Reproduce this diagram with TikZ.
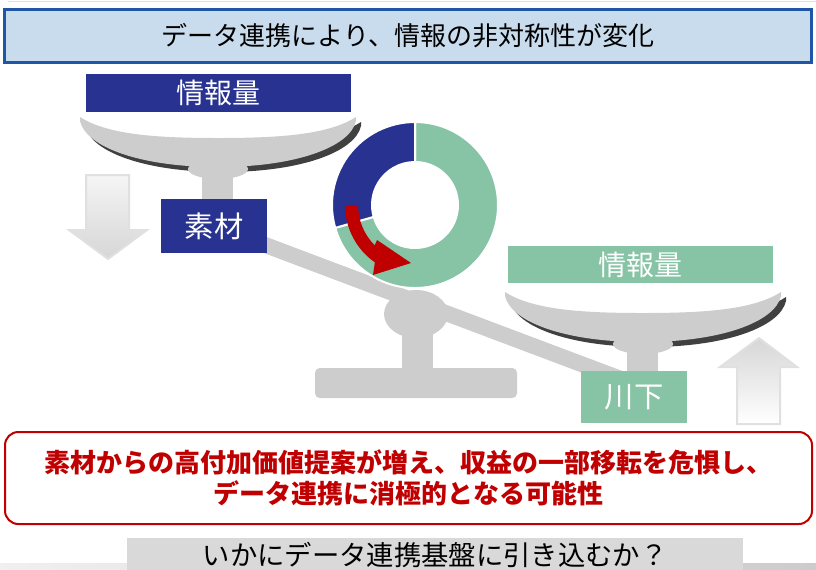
\documentclass[tikz,border=0pt]{standalone}
\usepackage{fontspec}
\newfontfamily\jp{Noto Sans CJK JP}
\usetikzlibrary{calc}

\definecolor{navy}{RGB}{40,50,145}
\definecolor{infogreen}{RGB}{135,195,165}
\definecolor{arrowred}{RGB}{192,0,0}
\definecolor{titlefill}{RGB}{201,220,238}
\definecolor{titleline}{RGB}{31,86,165}
\definecolor{pangray}{RGB}{205,205,205}
\definecolor{panshadow}{RGB}{64,64,64}
\definecolor{barfill}{RGB}{217,217,217}

\tikzset{
  labelbox/.style={inner sep=0pt, text=white,
    font=\jp\fontsize{21pt}{24pt}\selectfont},
  massbox/.style={inner sep=0pt, text=white,
    font=\jp\fontsize{22pt}{25pt}\selectfont},
  bigarrow/.style={draw=black!12, line width=1.5pt},
  pan/.pic={
    % dark rim shadow under the bowl
    \fill[panshadow, shift={(5,5)}]
      (-138,0) .. controls (-110,18) and (-60,21) .. (0,21)
      .. controls (60,21) and (110,18) .. (138,0) -- (138,4)
      .. controls (132,30) and (78,50) .. (0,50)
      .. controls (-78,50) and (-132,30) .. (-138,4) -- cycle;
    % bowl
    \fill[pangray]
      (-138,0) .. controls (-110,18) and (-60,21) .. (0,21)
      .. controls (60,21) and (110,18) .. (138,0) -- (138,4)
      .. controls (132,30) and (78,50) .. (0,50)
      .. controls (-78,50) and (-132,30) .. (-138,4) -- cycle;
    % hub and stem
    \fill[pangray] (0,52) ellipse[x radius=30, y radius=10];
    \fill[pangray] (-16,55) rectangle (15,92);
  }
}

\begin{document}
\begin{tikzpicture}[x=0.75pt, y=-0.75pt]
\useasboundingbox (0,0) rectangle (816,569);

% thin rule at the very top
\draw[black!12, line width=0.8pt] (8,1.5) -- (816,1.5);

% heading
\node[fill=titlefill, draw=titleline, line width=2pt, inner sep=0pt,
      minimum width={807*0.75pt}, minimum height={53*0.75pt},
      font=\jp\fontsize{19.5pt}{22pt}\selectfont] (title) at (408,36)
      {データ連携により、情報の非対称性が変化};

% movement arrows beside the pans
\shade[bigarrow, top color=black!4, bottom color=black!16]
  (86,175) -- (129,175) -- (129,230) -- (147,230) -- (108,259)
  -- (69,230) -- (86,230) -- cycle;
\shade[bigarrow, top color=black!16, bottom color=white]
  (759,338) -- (797,367) -- (780,367) -- (780,424) -- (737,424)
  -- (737,367) -- (720,367) -- cycle;

% tilted beam and pivot
\fill[pangray] (240,227) -- (625,372) -- (625,389) -- (240,244) -- cycle;
\fill[pangray] (416,314) ellipse[x radius=32, y radius=24];
\fill[pangray] (402,330) rectangle (433,372);
\fill[pangray, rounded corners=3.5pt] (315,368) rectangle (517,398);

% pans
\pic at (218,117) {pan};
\pic at (643,292) {pan};

% labels on the scale
\node[labelbox, fill=navy, minimum width={265*0.75pt}, minimum height={38*0.75pt}]
  (infoL) at (218.5,93) {情報量};
\node[massbox, fill=navy, minimum width={106*0.75pt}, minimum height={54*0.75pt}]
  (material) at (214,226) {素材};
\node[labelbox, fill=infogreen, minimum width={265*0.75pt}, minimum height={37*0.75pt}]
  (infoR) at (640.5,264.5) {情報量};
\node[massbox, fill=infogreen, minimum width={106*0.75pt}, minimum height={52*0.75pt}]
  (downstream) at (634,397) {川下};

% share ring
\begin{scope}[shift={(415,205)}]
  \path[fill=infogreen, draw=white, line width=1.5pt]
    (-90:83) arc[start angle=-90, end angle=164, radius=83]
    -- (164:43) arc[start angle=164, end angle=-90, radius=43] -- cycle;
  \path[fill=navy, draw=white, line width=1.5pt]
    (164:83) arc[start angle=164, end angle=270, radius=83]
    -- (270:43) arc[start angle=270, end angle=164, radius=43] -- cycle;
  % curved shift arrow
  \fill[arrowred]
    (180:70) arc[start angle=180, end angle=125, radius=70]
    -- (-42,70) -- (-4,58) -- (-38,35)
    -- (135:57) arc[start angle=135, end angle=180, radius=57] -- cycle;
\end{scope}

% concern
\node[draw=arrowred, fill=white, line width=1.5pt, rounded corners=10pt,
      minimum width={807*0.75pt}, minimum height={92*0.75pt}, inner sep=0pt,
      align=center, text=arrowred,
      font=\jp\bfseries\fontsize{19.5pt}{23.5pt}\selectfont] (concern) at (408.5,478)
  {素材からの高付加価値提案が増え、収益の一部移転を危惧し、\\データ連携に消極的となる可能性};

% closing question
\shade[left color=black!6, right color=black!20] (0,563) rectangle (816,569);
\node[fill=barfill, inner sep=0pt, minimum width={616*0.75pt}, minimum height={34*0.75pt},
      font=\jp\fontsize{20.5pt}{23pt}\selectfont] (question) at (435,555)
  {いかにデータ連携基盤に引き込むか？};
\end{tikzpicture}
\end{document}
